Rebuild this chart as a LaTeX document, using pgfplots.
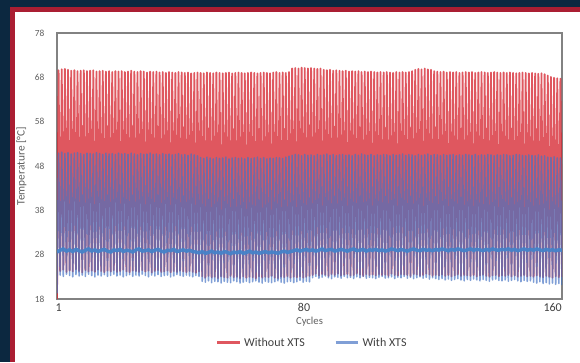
\documentclass[border=0pt]{standalone}
\usepackage{fontspec}
\setmainfont{Carlito}
\usepackage{pgfplots}
\usepackage{pgfplotstable}
\pgfplotsset{compat=1.18}
\definecolor{navy}{RGB}{12,40,64}
\definecolor{framered}{RGB}{170,30,50}
\definecolor{redline}{RGB}{214,40,50}
\definecolor{blueline}{RGB}{68,114,196}
\definecolor{bandblue}{RGB}{70,130,200}
\definecolor{axgray}{RGB}{130,130,130}
\definecolor{txtgray}{RGB}{95,95,95}

% Without XTS: start value, then (peak, trough) per cycle
\pgfplotstableread[header=false,row sep=\\]{
18\\
69.6\\24.3\\69.8\\24.6\\69.9\\24.1\\69.7\\24.4\\69.5\\24.2\\69.6\\24.7\\69.4\\24.3\\69.5\\24.0\\69.6\\24.5\\69.4\\24.2\\
69.5\\24.4\\69.6\\24.1\\69.3\\24.6\\69.4\\24.3\\69.5\\24.0\\69.3\\24.4\\69.4\\24.2\\69.2\\24.5\\69.4\\24.1\\69.3\\24.3\\
69.4\\24.6\\69.2\\24.2\\69.3\\24.0\\69.5\\24.4\\69.3\\24.3\\69.2\\24.1\\69.4\\24.5\\69.3\\24.2\\69.1\\24.4\\69.3\\24.0\\
69.2\\24.3\\69.3\\24.5\\69.1\\24.1\\69.2\\24.2\\69.0\\24.4\\69.2\\24.0\\69.1\\24.3\\69.0\\24.1\\69.2\\24.4\\69.1\\24.2\\
69.0\\24.0\\69.1\\24.3\\68.9\\24.1\\69.0\\23.9\\69.1\\24.2\\69.0\\23.1\\68.9\\22.8\\69.1\\23.2\\69.0\\22.9\\68.9\\23.0\\
69.1\\22.7\\69.0\\23.1\\68.9\\22.9\\69.0\\22.8\\69.1\\23.2\\68.9\\22.9\\69.0\\23.0\\69.1\\22.7\\69.0\\23.1\\68.9\\22.8\\
69.0\\23.0\\69.1\\22.9\\69.0\\22.6\\68.9\\23.1\\69.0\\22.8\\69.1\\23.0\\69.0\\22.9\\68.9\\23.2\\69.1\\22.8\\69.2\\22.7\\
69.0\\23.0\\69.1\\22.9\\69.0\\23.1\\69.2\\22.8\\70.0\\23.0\\70.1\\22.9\\70.0\\23.1\\70.2\\22.8\\70.1\\23.0\\70.0\\23.2\\
70.1\\23.4\\70.0\\23.7\\69.9\\23.3\\70.0\\23.6\\69.7\\23.5\\69.6\\23.2\\69.7\\23.6\\69.5\\23.4\\69.6\\23.7\\69.5\\23.3\\
69.4\\23.5\\69.5\\23.6\\69.3\\23.3\\69.4\\23.4\\69.3\\23.7\\69.4\\23.5\\69.2\\23.2\\69.3\\23.6\\69.2\\23.4\\69.3\\23.5\\
69.2\\23.3\\69.1\\23.6\\69.2\\23.4\\69.1\\23.5\\69.2\\23.2\\69.1\\23.7\\69.0\\23.4\\69.2\\23.3\\69.1\\23.6\\69.2\\23.5\\
69.1\\23.4\\69.2\\23.2\\69.4\\23.6\\69.7\\23.5\\69.9\\23.3\\69.8\\23.4\\70.0\\23.7\\69.8\\23.5\\69.7\\23.2\\69.4\\23.4\\
69.3\\23.3\\69.2\\23.5\\69.3\\23.2\\69.1\\23.4\\69.2\\23.1\\69.1\\23.3\\69.2\\23.5\\69.0\\23.2\\69.1\\23.4\\69.2\\23.3\\
69.1\\23.2\\69.2\\23.4\\69.0\\23.1\\69.1\\23.3\\69.2\\23.5\\69.1\\23.2\\69.0\\23.0\\69.1\\23.3\\69.2\\23.4\\69.1\\23.1\\
69.0\\23.3\\69.1\\23.2\\69.0\\23.4\\69.1\\23.1\\69.0\\23.3\\68.9\\23.0\\69.0\\23.2\\69.1\\23.4\\69.0\\23.1\\68.9\\23.2\\
69.0\\23.0\\68.9\\23.3\\68.8\\23.1\\68.9\\22.9\\68.7\\23.2\\68.4\\23.0\\68.1\\22.8\\67.9\\23.1\\67.8\\22.9\\67.7\\23.0\\
}\redtab

% With XTS: start value, then (peak, trough) per cycle
\pgfplotstableread[header=false,row sep=\\]{
19.3\\
50.9\\23.4\\51.1\\23.1\\50.8\\23.6\\51.0\\23.3\\50.7\\23.0\\50.9\\23.5\\51.0\\23.2\\50.8\\23.4\\50.6\\23.1\\50.9\\23.6\\
50.8\\23.3\\50.7\\23.0\\51.0\\23.4\\50.8\\23.2\\50.6\\23.5\\50.9\\23.1\\50.7\\23.3\\50.8\\23.6\\50.6\\23.2\\50.9\\23.4\\
50.7\\23.0\\50.8\\23.3\\50.6\\23.5\\50.9\\23.1\\50.7\\23.4\\50.5\\23.2\\50.8\\23.6\\50.6\\23.3\\50.7\\23.0\\50.9\\23.4\\
50.6\\23.2\\50.7\\23.5\\50.5\\23.1\\50.8\\23.3\\50.6\\23.4\\50.7\\23.0\\50.5\\23.2\\50.6\\23.5\\50.8\\23.3\\50.5\\23.1\\
50.6\\23.4\\50.4\\23.2\\50.7\\23.0\\50.5\\23.3\\50.3\\23.1\\49.9\\22.0\\49.7\\21.8\\50.0\\22.1\\49.8\\21.7\\49.6\\22.0\\
49.9\\21.9\\49.7\\21.6\\49.8\\22.0\\50.0\\21.8\\49.6\\21.7\\49.8\\22.1\\49.9\\21.9\\49.7\\21.6\\49.8\\21.8\\49.6\\22.0\\
49.9\\21.7\\49.7\\21.9\\49.8\\22.1\\50.0\\21.8\\49.7\\21.6\\49.9\\22.0\\49.6\\21.8\\49.8\\21.7\\49.7\\21.9\\49.9\\22.1\\
49.8\\21.8\\49.7\\21.6\\50.0\\21.9\\50.2\\22.0\\50.4\\21.7\\50.6\\21.9\\50.5\\22.2\\50.3\\21.8\\50.6\\22.0\\50.4\\21.9\\
50.5\\22.8\\50.3\\23.1\\50.6\\22.7\\50.4\\22.9\\50.5\\23.2\\50.7\\22.8\\50.4\\22.6\\50.6\\23.0\\50.3\\22.9\\50.5\\22.7\\
50.6\\23.1\\50.4\\22.8\\50.5\\22.9\\50.3\\22.6\\50.6\\23.0\\50.4\\22.8\\50.7\\23.1\\50.5\\22.7\\50.4\\22.9\\50.6\\22.8\\
50.3\\22.6\\50.5\\22.9\\50.4\\23.1\\50.6\\22.7\\50.5\\22.8\\50.3\\23.0\\50.6\\22.6\\50.4\\22.9\\50.5\\22.8\\50.7\\23.1\\
50.4\\22.7\\50.6\\22.9\\50.5\\22.6\\50.3\\22.8\\50.6\\23.0\\50.4\\22.7\\50.5\\22.9\\50.7\\22.5\\50.4\\22.8\\50.6\\22.6\\
50.5\\22.4\\50.3\\22.6\\50.6\\22.3\\50.4\\22.5\\50.5\\22.2\\50.6\\22.4\\50.3\\22.6\\50.5\\22.3\\50.4\\22.1\\50.6\\22.4\\
50.5\\22.2\\50.4\\22.5\\50.6\\22.3\\50.3\\22.1\\50.5\\22.4\\50.4\\22.2\\50.6\\22.0\\50.5\\22.3\\50.3\\22.5\\50.5\\22.2\\
50.4\\22.1\\50.6\\22.3\\50.5\\22.0\\50.3\\22.2\\50.4\\22.4\\50.6\\22.1\\50.5\\21.9\\50.4\\22.2\\50.3\\22.0\\50.5\\22.1\\
50.4\\21.8\\50.3\\21.6\\50.5\\21.9\\50.2\\21.5\\50.3\\21.7\\50.0\\21.4\\49.9\\21.6\\50.1\\21.3\\49.8\\21.5\\49.8\\21.2\\
}\bluetab

% With XTS: holding level per cycle
\pgfplotstableread[header=false,row sep=\\]{
28.6\\29.0\\29.3\\28.8\\29.1\\28.7\\29.2\\28.9\\28.6\\29.0\\
29.3\\28.8\\29.1\\28.7\\29.0\\29.2\\28.8\\28.6\\29.1\\28.9\\
29.2\\28.7\\29.0\\28.9\\28.6\\29.1\\29.3\\28.8\\28.9\\29.1\\
28.7\\29.0\\29.2\\28.8\\28.6\\29.0\\28.9\\29.2\\28.7\\28.9\\
29.1\\28.8\\29.0\\28.7\\28.6\\28.4\\28.7\\28.3\\28.5\\28.8\\
28.4\\28.6\\28.3\\28.7\\28.5\\28.2\\28.6\\28.4\\28.7\\28.3\\
28.5\\28.8\\28.4\\28.6\\28.3\\28.5\\28.7\\28.4\\28.6\\28.5\\
28.3\\28.6\\28.8\\28.5\\28.7\\28.9\\29.1\\28.8\\29.0\\29.2\\
28.9\\29.1\\28.8\\29.0\\29.3\\28.9\\29.1\\29.2\\28.8\\29.0\\
29.2\\29.0\\28.8\\29.1\\29.3\\28.9\\29.0\\29.2\\28.8\\29.1\\
29.0\\29.2\\28.9\\29.1\\28.8\\29.0\\29.3\\29.1\\28.9\\29.2\\
29.0\\28.8\\29.1\\29.3\\29.0\\28.9\\29.2\\29.0\\29.1\\28.9\\
29.2\\29.0\\29.3\\29.1\\28.9\\29.2\\29.0\\29.3\\29.1\\28.9\\
29.1\\29.3\\29.0\\29.2\\29.1\\28.9\\29.2\\29.0\\29.3\\29.1\\
29.0\\29.2\\29.1\\29.3\\29.0\\29.2\\28.9\\29.1\\29.3\\29.0\\
29.2\\29.0\\29.3\\29.1\\28.9\\29.2\\29.0\\29.1\\28.9\\29.1\\29.0\\
}\bandtab

\begin{document}
\begin{tikzpicture}
\fill[navy] (0,0) rectangle (435pt,271.5pt);
\fill[framered] (7.5pt,0) rectangle (435pt,266.25pt);
\fill[white] (11.25pt,0) rectangle (435pt,262.5pt);
\begin{axis}[
  at={(42.75pt,47.25pt)}, anchor=south west,
  scale only axis, width=378.75pt, height=199.5pt,
  xmin=0.5, xmax=163, ymin=18, ymax=78,
  xtick={1,80,160}, ytick={18,28,38,48,58,68,78},
  /pgf/number format/assume math mode=true,
  axis line style={draw=axgray, line width=1.1pt},
  major tick length=0pt,
  yticklabel style={font=\fontsize{7}{8}\selectfont, text=txtgray, xshift=-6pt},
  xticklabel style={font=\fontsize{9}{10}\selectfont, text=black!75},
  xlabel={Cycles},
  ylabel={Temperature [°C]},
  xlabel style={font=\fontsize{8}{9}\selectfont, text=txtgray, at={(axis description cs:0.5,-0.0865)}, anchor=center},
  ylabel style={font=\fontsize{8.5}{9.5}\selectfont, text=txtgray, at={(axis description cs:-0.0703,0.5)}, anchor=center, rotate=0},
  legend columns=2,
  legend style={at={(0.506,-0.165)}, anchor=center, draw=none, fill=none,
    font=\fontsize{9}{10}\selectfont, text=black!75,
    /tikz/every even column/.append style={column sep=20pt}},
  legend image code/.code={\draw[#1,line width=2.2pt] (0cm,0cm) -- (0.6cm,0cm);},
]
\addplot[redline, line width=1.35pt, opacity=0.78, line join=round]
  table[x expr=0.5+\coordindex*0.5078, y index=0] {\redtab};
\addlegendentry{Without XTS}
\addplot[blueline, line width=1.2pt, opacity=0.68, line join=round]
  table[x expr=0.5+\coordindex*0.5078, y index=0] {\bluetab};
\addlegendentry{With XTS}
\addplot[bandblue, line width=2.6pt, opacity=0.95, forget plot]
  table[x expr=0.5+\coordindex*1.0156, y index=0] {\bandtab};
\end{axis}
\pgfresetboundingbox
\path (0,0) rectangle (435pt,271.5pt);
\end{tikzpicture}
\end{document}
